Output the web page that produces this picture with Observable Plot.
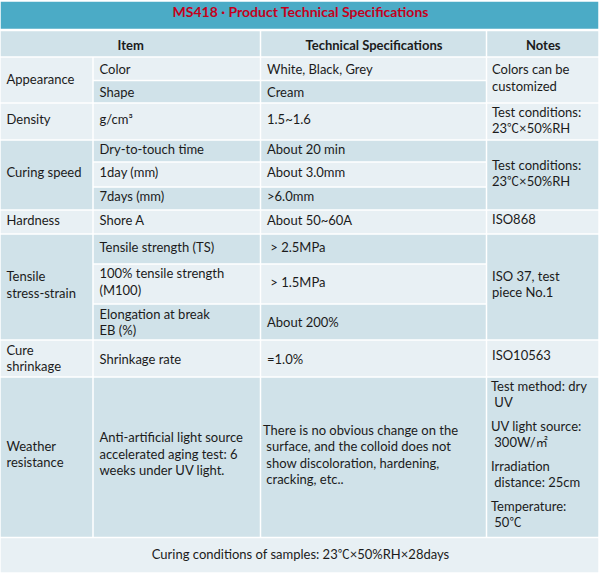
<!DOCTYPE html>
<html><head><meta charset="utf-8">
<script src="https://cdn.jsdelivr.net/npm/d3@7"></script>
<script src="https://cdn.jsdelivr.net/npm/@observablehq/plot@0.6"></script>
<style>body{margin:0;background:#fff} svg{display:block}</style>
</head><body><div id="chart"></div>
<script>
// ---- content ----
const title = "MS418 · Product Technical Specifications";
const headers = ["Item", "Technical Specifications", "Notes"];
const groups = ["Appearance", "Density", "Curing speed", "Hardness", "Tensile\nstress-strain", "Cure\nshrinkage", "Weather\nresistance"];
const groupSpans = [2, 1, 3, 1, 3, 1, 1];
const items = ["Color", "Shape", "g/cm³", "Dry-to-touch time", "1day (mm)", "7days (mm)", "Shore A",
  "Tensile strength (TS)", "100% tensile strength\n(M100)", "Elongation at break\nEB (%)", "Shrinkage rate",
  "Anti-artificial light source\naccelerated aging test: 6\nweeks under UV light."];
const specs = ["White, Black, Grey", "Cream", "1.5~1.6", "About 20 min", "About 3.0mm", ">6.0mm", "About 50~60A",
  "\u00a0> 2.5MPa", "\u00a0> 1.5MPa", "About 200%", "=1.0%",
  "There is no obvious change on the\n\u00a0surface, and the colloid does not\n\u00a0show discoloration, hardening,\n\u00a0cracking, etc.."];
const notes = ["Colors can be\ncustomized", "Test conditions:\n23℃×50%RH", "Test conditions:\n23℃×50%RH", "ISO868",
  "ISO 37, test\npiece No.1", "ISO10563", null];
const weatherNotes = ["Test method: dry\n\u00a0UV", "UV light source:\n\u00a0300W/㎡", "Irradiation\n\u00a0distance: 25cm", "Temperature:\n\u00a050℃"];
const footer = "Curing conditions of samples: 23℃×50%RH×28days";

// ---- layout ----
const W = 600, H = 574;
const colEdges = [0, 93, 260.5, 486.5, 599];
const rowEdges = [57, 80.5, 103, 140, 162, 187, 210, 234, 264, 304, 340, 377, 537.5];
const titleBand = [1, 29.5], headerBand = [30.5, 57], footerBand = [537.5, 573];
const light = "#e8f0f4", dark = "#d0e2e9", teal = "#4babc6";
const padX = [6, 6, 6, 5];
const FS = 13, LH = 1.27;
const mid = 0.32 * LH * FS;               // baseline offset Plot uses for lineAnchor "middle"
// baseline offsets below the cell centre
const itemNudge = [4.4, 4.4, 2, 2, 2, 2.4, 2, 2.2, 2.1, 4.6, 4.7, 1];
const specNudge = [4.4, 4.4, 1.6, 2, 2, 2.4, 2, 2.2, 2.1, 4.6, 4.7, 1.6];
const groupNudge = [3.8, 2, 1.7, 2, 2, 4, 1.4];
const noteNudge = [2.1, 3, 2.5, 1, 1.3, 1.3];
const weatherNoteBaselines = [21.3, 61.3, 101.7, 141.3];

const cells = [], texts = [];
cells.push({x1: 0, x2: 599, y1: titleBand[0], y2: titleBand[1], fill: teal});
cells.push({x1: colEdges[0], x2: colEdges[2], y1: headerBand[0], y2: headerBand[1], fill: dark});
cells.push({x1: colEdges[2], x2: colEdges[3], y1: headerBand[0], y2: headerBand[1], fill: dark});
cells.push({x1: colEdges[3], x2: colEdges[4], y1: headerBand[0], y2: headerBand[1], fill: dark});
const headerTexts = headers.map((h, i) => ({
  x: i === 0 ? (colEdges[0] + colEdges[2]) / 2 : (colEdges[i + 1] + colEdges[i + 2]) / 2,
  y: (headerBand[0] + headerBand[1]) / 2 + 5.5 - 0.32 * FS, text: h}));

let r = 0;
groups.forEach((g, gi) => {
  const r0 = r, r1 = r + groupSpans[gi];
  const fill = r0 % 2 === 0 ? light : dark;
  const y1 = rowEdges[r0], y2 = rowEdges[r1];
  cells.push({x1: colEdges[0], x2: colEdges[1], y1, y2, fill});
  texts.push({x: colEdges[0] + padX[0], y: (y1 + y2) / 2 + groupNudge[gi] - mid, text: g});
  cells.push({x1: colEdges[3], x2: colEdges[4], y1, y2, fill});
  if (notes[gi]) texts.push({x: colEdges[3] + padX[3], y: (y1 + y2) / 2 + noteNudge[gi] - mid, text: notes[gi]});
  else weatherNotes.forEach((t, k) => texts.push({x: colEdges[3] + 4, y: y1 + weatherNoteBaselines[k] - mid, text: t}));
  r = r1;
});
items.forEach((it, i) => {
  const fill = i % 2 === 0 ? light : dark;
  const y1 = rowEdges[i], y2 = rowEdges[i + 1];
  cells.push({x1: colEdges[1], x2: colEdges[2], y1, y2, fill});
  cells.push({x1: colEdges[2], x2: colEdges[3], y1, y2, fill});
  texts.push({x: colEdges[1] + padX[1], y: (y1 + y2) / 2 + itemNudge[i] - mid, text: it, lh: i === 11 ? 1.28 : LH});
  texts.push({x: colEdges[2] + (i === 11 ? 2 : padX[2]), y: (y1 + y2) / 2 + specNudge[i] - mid, text: specs[i]});
});
cells.push({x1: 0, x2: 599, y1: footerBand[0], y2: footerBand[1], fill: light});

const font = "Lato, 'Noto Sans', sans-serif";
const ink = "#1b1b1b";
const chart = Plot.plot({
  width: W, height: H, margin: 0,
  x: {domain: [0, W], range: [0, W], axis: null},
  y: {domain: [0, H], range: [0, H], axis: null},
  color: {type: "identity"},
  marks: [
    Plot.rect(cells, {x1: "x1", x2: "x2", y1: "y1", y2: "y2", fill: "fill", inset: 0.75}),
    Plot.text([title], {x: [300], y: [16.8 - 0.32 * 14], text: d => d, fill: "#c4001c",
      fontSize: 14, fontWeight: "bold", fontFamily: font}),
    Plot.text(headerTexts, {x: "x", y: "y", text: "text", fill: ink, fontSize: FS, fontWeight: "bold", fontFamily: font}),
    Plot.text(texts, {x: "x", y: "y", text: "text", textAnchor: "start", lineAnchor: "middle", lineHeight: LH,
      fill: ink, fontSize: FS, fontFamily: font}),
    Plot.text([footer], {x: [300], y: [(footerBand[0] + footerBand[1]) / 2 + 3 - 0.32 * FS], text: d => d, fill: ink,
      fontSize: FS, fontFamily: font})
  ]
});

// render the CJK symbols (℃, ㎡) with a CJK face, as in the original
const walker = document.createTreeWalker(chart, NodeFilter.SHOW_TEXT);
const hits = [];
while (walker.nextNode()) if (/[℃㎡]/.test(walker.currentNode.nodeValue)) hits.push(walker.currentNode);
hits.forEach(node => {
  const frag = document.createDocumentFragment();
  node.nodeValue.split(/([℃㎡])/).forEach(part => {
    if (!part) return;
    if (/[℃㎡]/.test(part)) {
      const t = document.createElementNS("http://www.w3.org/2000/svg", "tspan");
      t.setAttribute("font-family", "'Noto Sans CJK SC'");
      t.setAttribute("font-size", "12");
      t.textContent = part;
      frag.appendChild(t);
    } else frag.appendChild(document.createTextNode(part));
  });
  node.parentNode.replaceChild(frag, node);
});
document.getElementById("chart").append(chart);
</script></body></html>
